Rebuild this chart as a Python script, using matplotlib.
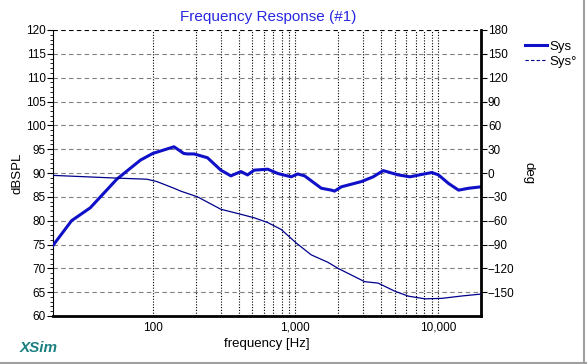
#! /usr/bin/env python

# Frequency response (magnitude + phase) in XSim style

import numpy as np
import matplotlib
matplotlib.use('Agg')
import matplotlib.pyplot as plt
from matplotlib.ticker import FixedLocator, MultipleLocator, NullLocator
from matplotlib.lines import Line2D

plt.rcParams['font.family'] = ['Liberation Sans', 'DejaVu Sans']

# magnitude, dB SPL
mag_freq = [20, 27, 36.5, 56, 82, 100, 141, 165, 175, 195, 242, 300, 353, 415, 462,
            515, 640, 752, 933, 1040, 1160, 1520, 1790, 1880, 2100, 2900, 3510, 4130,
            5260, 6360, 7690, 9040, 10070, 11850, 13930, 16380, 20000]
mag_db = [74.8, 80.0, 82.7, 88.7, 92.7, 94.1, 95.5, 94.1, 94.0, 94.0, 93.2, 90.6, 89.4,
          90.3, 89.6, 90.6, 90.8, 89.9, 89.2, 89.8, 89.4, 86.8, 86.4, 86.2, 87.1, 88.2,
          89.2, 90.5, 89.6, 89.2, 89.7, 90.1, 89.6, 87.8, 86.4, 86.8, 87.1]

# phase, degrees
ph_freq = [20, 59, 91, 107, 141, 157, 206, 300, 415, 515, 640, 794, 1012, 1290, 1690,
           1990, 3060, 3800, 4980, 6190, 8110, 10620, 14690, 20000]
ph_deg = [-3, -6.6, -7.8, -10.8, -19.2, -22.8, -30, -45.6, -52, -56.4, -62.4, -71, -88,
          -103, -112.4, -120, -136.8, -138.6, -148.8, -155, -158.4, -157.8, -154.8, -152.4]

fig = plt.figure(figsize=(5.87, 3.64), dpi=100)
ax = fig.add_axes([53 / 587, 48 / 364, 428 / 587, 286 / 364])
ax2 = ax.twinx()

ax.set_xscale('log')
ax.set_xlim(20, 20000)
ax.set_ylim(60, 120)
ax2.set_ylim(-180, 180)

# grid: dotted verticals at 100..10000, dashed horizontals every 5 dB
vgrid = [100 * k for k in range(1, 10)] + [1000 * k for k in range(1, 10)] + [10000]
for f in vgrid:
    ax.axvline(f, color='black', lw=0.8, ls=(0, (1, 1.5)), zorder=1)
for v in range(65, 125, 5):
    ax.axhline(v, color='#808080' if v < 120 else 'black', lw=0.8, ls=(0, (4, 3)), zorder=1)

ax.plot(mag_freq, mag_db, color='#1010c8', lw=2.2, zorder=3)
ax2.plot(ph_freq, ph_deg, color='#00008c', lw=0.9, zorder=3)

# x ticks
ax.xaxis.set_major_locator(FixedLocator([100, 1000, 10000]))
ax.xaxis.set_minor_locator(NullLocator())
ax.set_xticklabels(['100', '1,000', '10,000'])
ax.tick_params(axis='x', length=0, labelsize=8.5, pad=4)

# y ticks
ax.yaxis.set_major_locator(MultipleLocator(5))
ax.yaxis.set_minor_locator(MultipleLocator(1))
ax.tick_params(axis='y', which='major', length=4, labelsize=8.5, pad=1)
ax.tick_params(axis='y', which='minor', length=2)
ax2.yaxis.set_major_locator(FixedLocator(list(range(-150, 181, 30))))
ax2.tick_params(axis='y', length=4, labelsize=8.5, pad=1)

for a in (ax, ax2):
    a.spines['top'].set_visible(False)
ax.spines['left'].set_linewidth(0.8)
ax.spines['bottom'].set_linewidth(2)
ax2.spines['right'].set_linewidth(2)
ax2.spines['left'].set_visible(False)
ax2.spines['bottom'].set_visible(False)

ax.set_xlabel('frequency [Hz]', fontsize=9.5, labelpad=3)
ax.set_ylabel('dBSPL', fontsize=9.5, labelpad=2)
ax2.set_ylabel('deg', fontsize=9.5, rotation=270, labelpad=14)

fig.text(268 / 587, 1 - 17 / 364, 'Frequency Response (#1)', color='#2828e0',
         fontsize=11, ha='center', va='center')
fig.text(20 / 587, 1 - 348 / 364, 'XSim', color='#1a8080', fontsize=11,
         fontweight='bold', fontstyle='italic', ha='left', va='center')

handles = [Line2D([], [], color='#1010c8', lw=2.2),
           Line2D([], [], color='#00008c', lw=0.8, ls=(0, (3, 2)))]
fig.legend(handles, ['Sys', 'Sys°'], loc='upper left', bbox_to_anchor=(518 / 587, 1 - 34 / 364),
           frameon=False, fontsize=9.5, handlelength=1.7, handletextpad=0.2,
           labelspacing=0.2, borderpad=0)

# window border at bottom and right
fig.add_artist(Line2D([0, 1], [1.5 / 364, 1.5 / 364], color='#a0a0a0', lw=1.5))
fig.add_artist(Line2D([584 / 587, 584 / 587], [0, 1], color='#a0a0a0', lw=1.5))

fig.savefig('out.png', dpi=100)
